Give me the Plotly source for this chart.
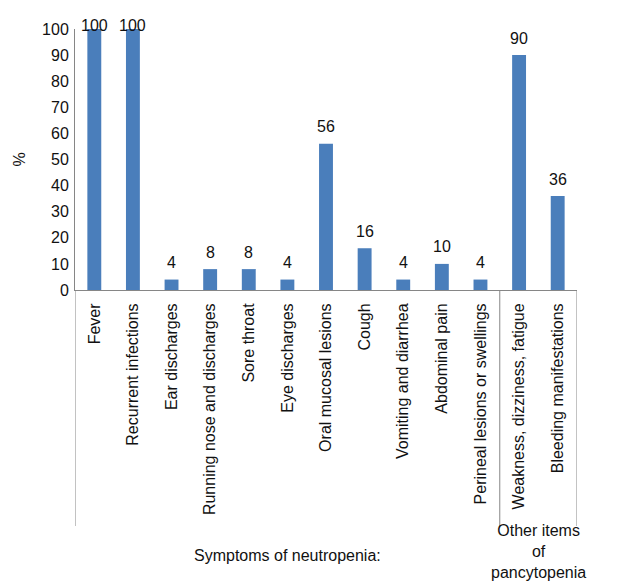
import plotly.graph_objects as go

# Symptom categories and the share of patients (%) presenting each
categories = [
    "Fever",
    "Recurrent infections",
    "Ear discharges",
    "Running nose and discharges",
    "Sore throat",
    "Eye discharges",
    "Oral mucosal lesions",
    "Cough",
    "Vomiting and diarrhea",
    "Abdominal pain",
    "Perineal lesions or swellings",
    "Weakness, dizziness, fatigue",
    "Bleeding manifestations",
]
percent = [100, 100, 4, 8, 8, 4, 56, 16, 4, 10, 4, 90, 36]

# Category groups shown beneath the axis: (label, first index, last index)
groups = [
    ("Symptoms of neutropenia:", 0, 10),
    ("Other items<br>of<br>pancytopenia", 11, 12),
]

BAR_COLOR = "#4A7EBB"
AXIS_COLOR = "#868686"
TEXT_COLOR = "#111111"
FONT = "Liberation Sans, Arial, sans-serif"

# Plot-area geometry (pixels)
W, H = 628, 581
M_L, M_R, M_T, M_B = 75, 51, 29, 291
plot_h = H - M_T - M_B
px_per_unit = plot_h / 100.0

fig = go.Figure(
    go.Bar(
        x=categories,
        y=percent,
        marker=dict(color=BAR_COLOR, line=dict(width=0)),
        hoverinfo="x+y",
    )
)

# Value labels above each bar, pulled down near the top of the axis
annotations = []
for cat, v in zip(categories, percent):
    shift = min(17, (100 - v) * px_per_unit + 4)
    annotations.append(dict(
        x=cat, y=v, xref="x", yref="y",
        text=str(v), showarrow=False,
        yanchor="middle", yshift=shift,
        font=dict(family=FONT, size=16, color=TEXT_COLOR),
    ))

# Group brackets and labels under the category axis
bracket_bottom = (H - M_B - 526) / plot_h
shapes = []
edges = sorted({g[1] - 0.5 for g in groups} | {g[2] + 0.5 for g in groups})
for xe in edges:
    shapes.append(dict(
        type="line", xref="x", yref="paper",
        x0=xe, x1=xe, y0=0, y1=bracket_bottom,
        line=dict(color=AXIS_COLOR, width=1),
    ))

for label, i0, i1 in groups:
    lines = label.count("<br>") + 1
    center_px = 555 if lines == 1 else 551
    annotations.append(dict(
        x=(i0 + i1) / 2.0, xref="x",
        y=(H - M_B - center_px) / plot_h, yref="paper",
        text=label, showarrow=False,
        xanchor="center", yanchor="middle",
        align="center",
        font=dict(family=FONT, size=16, color=TEXT_COLOR),
    ))

fig.update_layout(
    width=W, height=H,
    margin=dict(l=M_L, r=M_R, t=M_T, b=M_B, pad=0),
    paper_bgcolor="white",
    plot_bgcolor="white",
    bargap=0.64,
    showlegend=False,
    font=dict(family=FONT, size=16, color=TEXT_COLOR),
    annotations=annotations,
    shapes=shapes,
)

fig.update_xaxes(
    type="category",
    range=[-0.5, len(categories) - 0.5],
    tickangle=-90,
    ticks="",
    showgrid=False,
    zeroline=False,
    showline=True,
    linecolor=AXIS_COLOR,
    linewidth=1,
    tickfont=dict(family=FONT, size=16, color=TEXT_COLOR),
    ticklabelstandoff=6,
)

fig.update_yaxes(
    range=[0, 100],
    tickmode="array",
    tickvals=list(range(0, 101, 10)),
    ticks="",
    showgrid=False,
    zeroline=False,
    showline=True,
    linecolor=AXIS_COLOR,
    linewidth=1,
    tickfont=dict(family=FONT, size=16, color=TEXT_COLOR),
    ticklabelstandoff=2,
    title=dict(text="%", font=dict(family=FONT, size=16, color=TEXT_COLOR), standoff=12),
)

fig.write_html("out.html")
